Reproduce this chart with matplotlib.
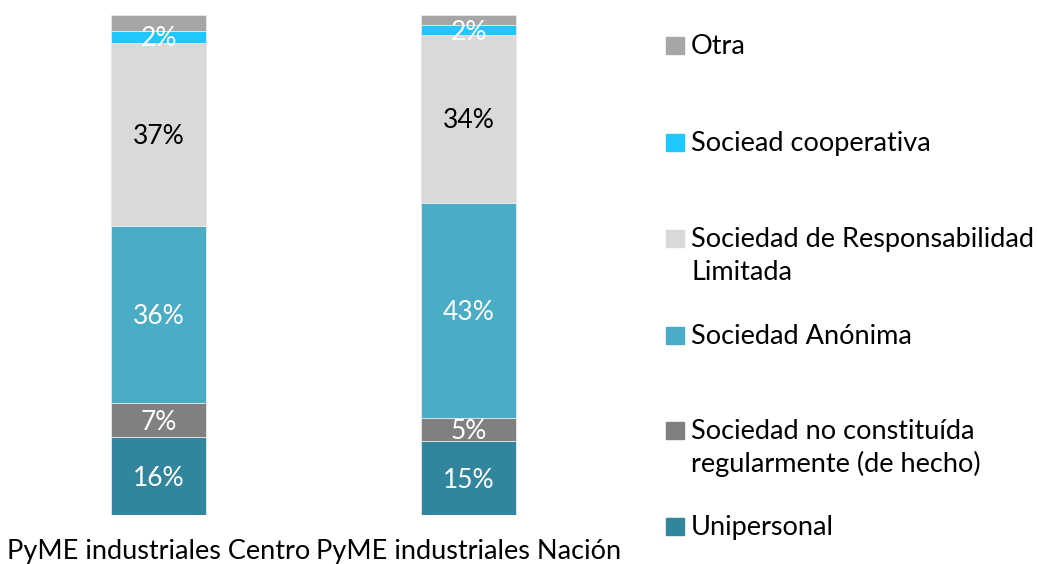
import numpy as np
import matplotlib.pyplot as plt
from matplotlib.patches import Rectangle

plt.rcParams['font.family'] = ['Lato', 'DejaVu Sans']

groups = ['PyME industriales Centro', 'PyME industriales Nación']
series = ['Unipersonal', 'Sociedad no constituída\nregularmente (de hecho)',
          'Sociedad Anónima', 'Sociedad de Responsabilidad\nLimitada',
          'Sociead cooperativa', 'Otra']
colors = ['#31859C', '#808080', '#4BACC6', '#D9D9D9', '#1FC7FF', '#A6A6A6']
text_colors = ['white', 'white', 'white', 'black', 'white', 'white']

centro = [15.6, 6.8, 35.4, 36.6, 2.4, 3.2]
nacion = [14.8, 4.6, 43.0, 33.6, 2.0, 2.0]
centro_labels = ['16%', '7%', '36%', '37%', '2%', '']
nacion_labels = ['15%', '5%', '43%', '34%', '2%', '']

W, H = 1038, 564
fig = plt.figure(figsize=(W / 100, H / 100), dpi=100)
ax = fig.add_axes([3.5 / W, 49 / H, 620 / W, 500 / H])

data = np.array([centro, nacion]).T
labels = [centro_labels, nacion_labels]
x = np.arange(len(groups))
bottom = np.zeros(len(groups))
for i, name in enumerate(series):
    bars = ax.bar(x, data[i], 0.306, bottom=bottom, color=colors[i],
                  edgecolor='#e8e8e8', linewidth=0.6)
    for j, b in enumerate(bars):
        txt = labels[j][i]
        if txt:
            ax.text(b.get_x() + b.get_width() / 2, bottom[j] + data[i][j] / 2 - 0.4, txt,
                    ha='center', va='center', fontsize=19, color=text_colors[i])
    bottom += data[i]

ax.set_xlim(-0.5, 1.5)
ax.set_ylim(0, 100)
ax.set_yticks([])
ax.set_xticks(x)
ax.set_xticklabels(groups, fontsize=19.5)
ax.tick_params(axis='x', length=0, pad=17)
for s in ax.spines.values():
    s.set_visible(False)

# legend drawn by hand, reverse order, marker aligned with first line
legend_base = [54, 151, 247, 344, 439, 535]
for k, i in enumerate(reversed(range(len(series)))):
    yb = legend_base[k]
    fig.patches.append(Rectangle((666 / W, 1 - yb / H), 18 / W, 17 / H,
                                 transform=fig.transFigure, color=colors[i]))
    for n, line in enumerate(series[i].split('\n')):
        fig.text(691 / W, 1 - (yb + 33 * n) / H, line, ha='left', va='baseline',
                 fontsize=19.5)

fig.savefig('out.png', dpi=100)
